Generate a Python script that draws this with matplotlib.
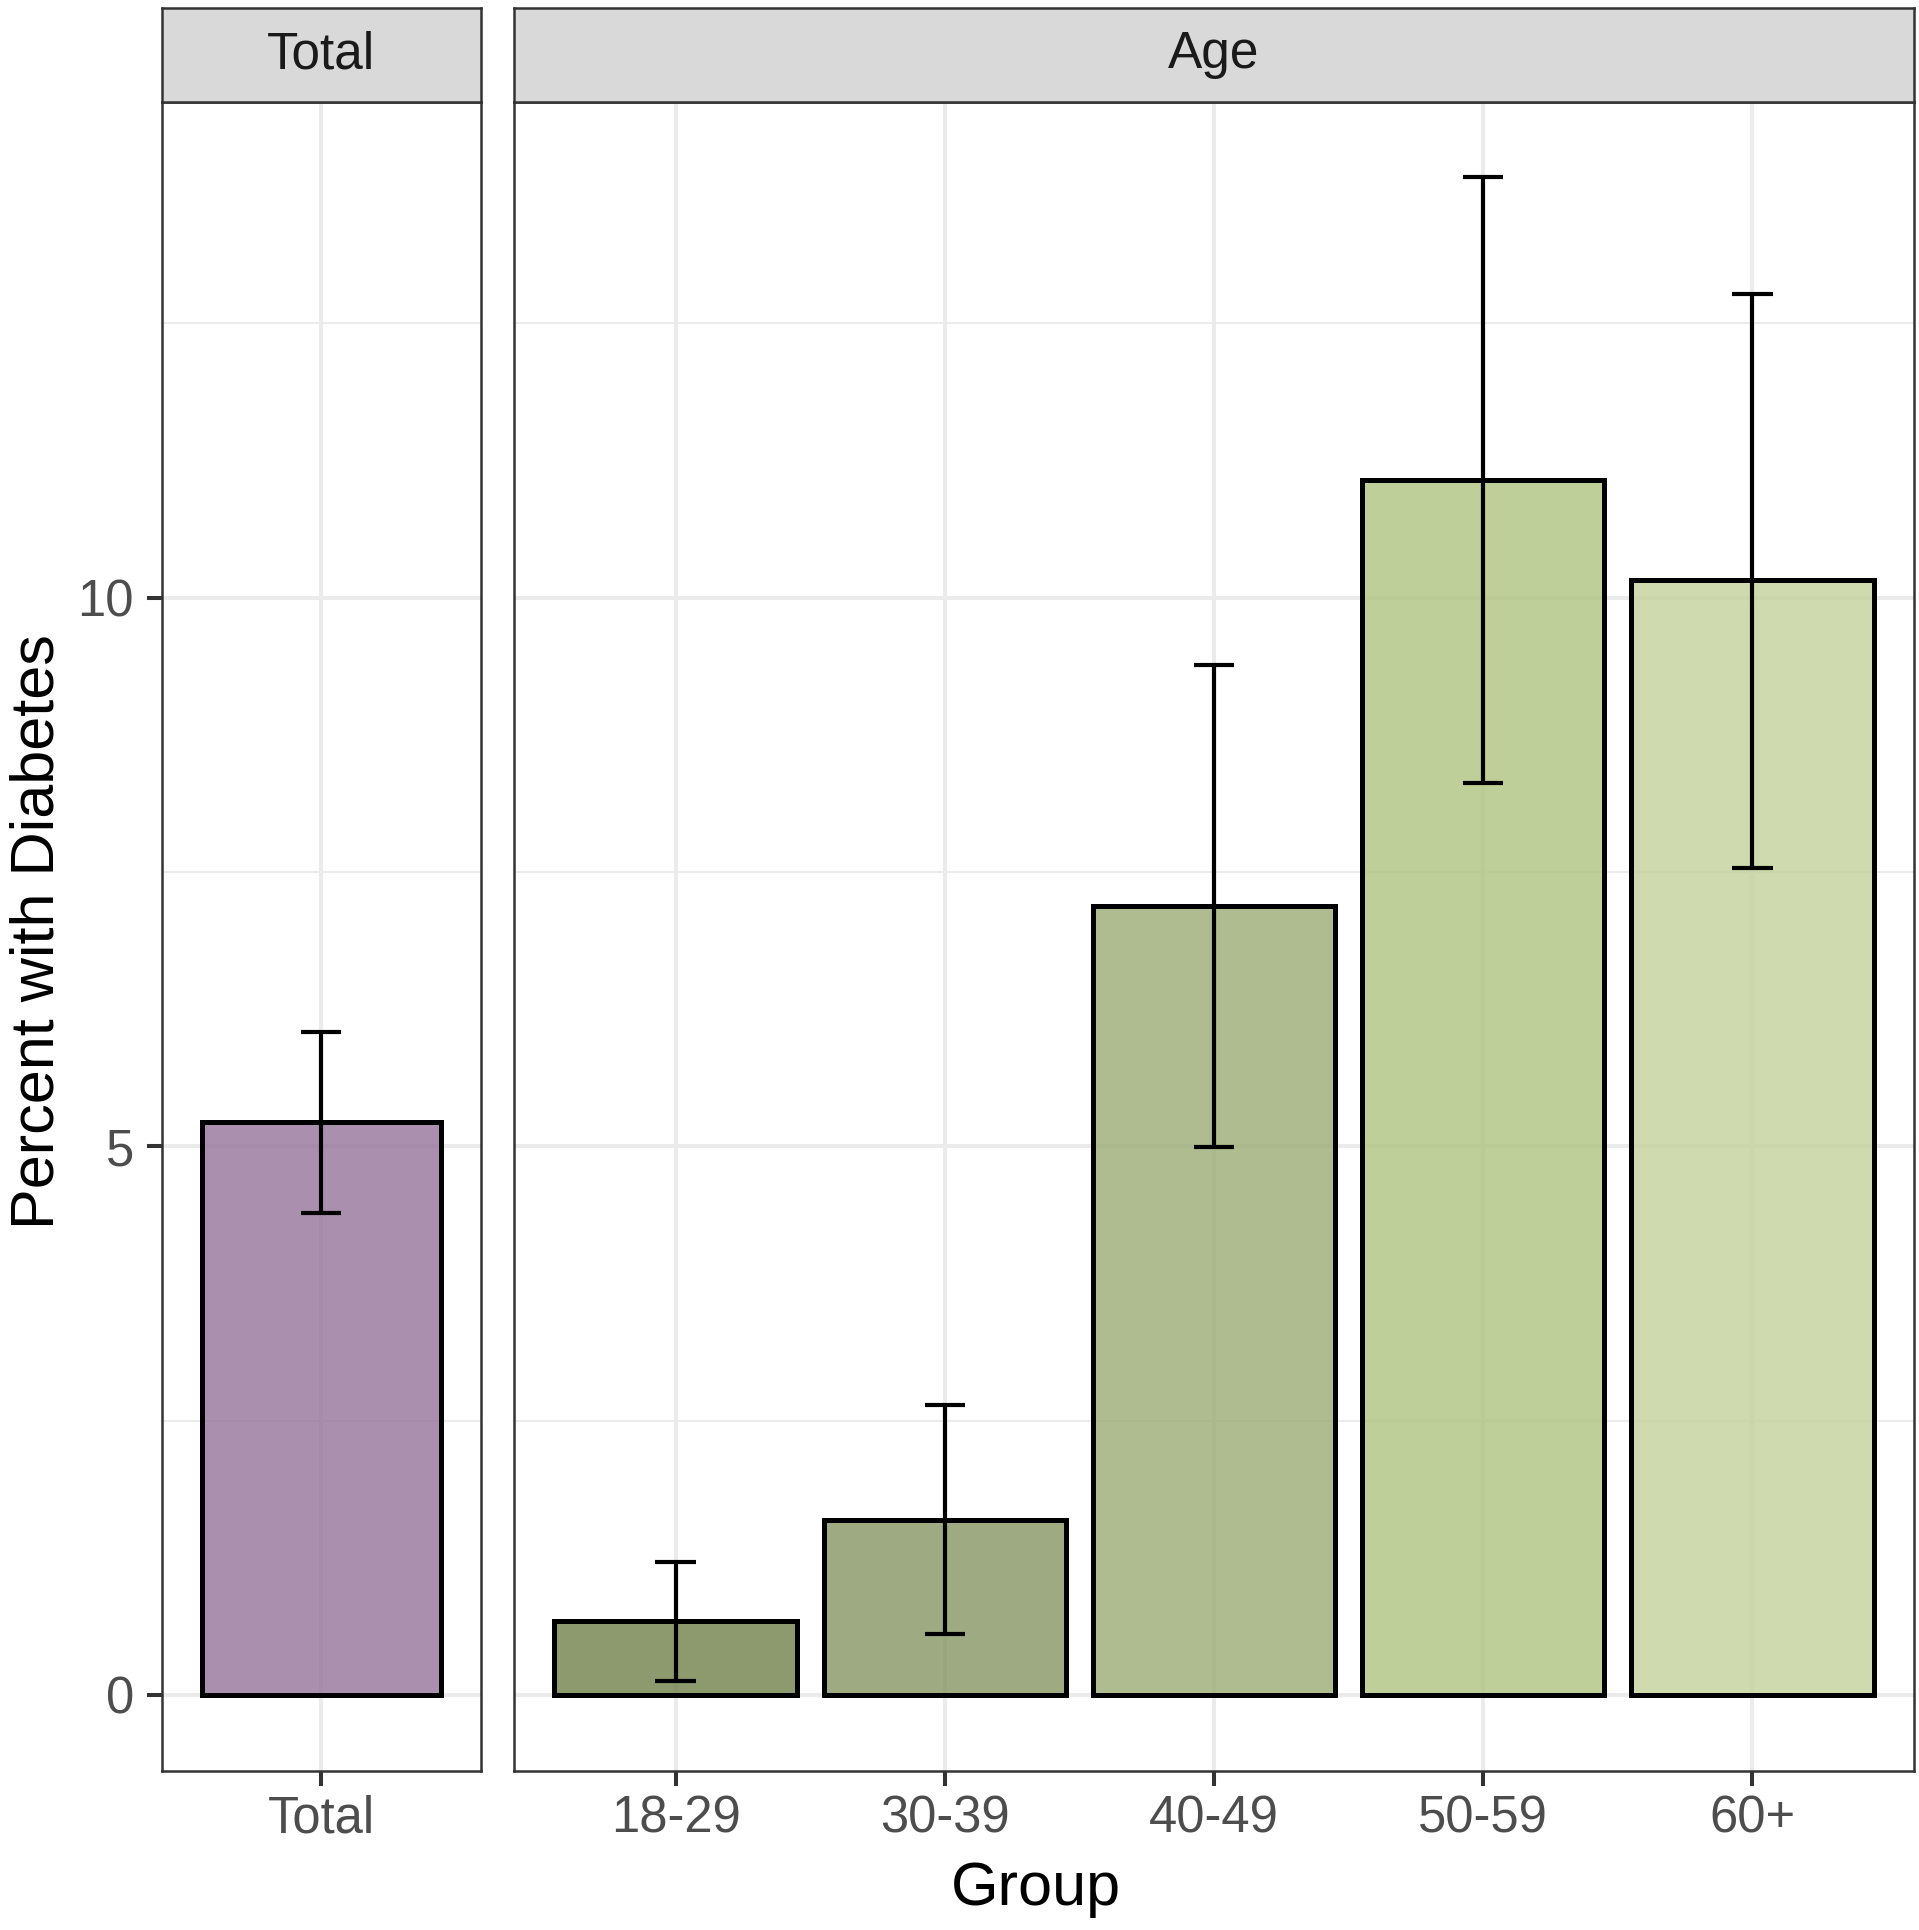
import matplotlib
matplotlib.use('Agg')
import matplotlib.pyplot as plt
from matplotlib.colors import to_rgba

plt.rcParams['font.family'] = ['Liberation Sans', 'DejaVu Sans']

# ---- data ----
panel_titles = ['Total', 'Age']

total_labels = ['Total']
total_values = [5.22]
total_lower = [4.39]
total_upper = [6.04]
total_colors = ['#95739A']

age_labels = ['18-29', '30-39', '40-49', '50-59', '60+']
age_values = [0.67, 1.59, 7.19, 11.07, 10.16]
age_lower = [0.13, 0.55, 4.99, 8.31, 7.54]
age_upper = [1.21, 2.64, 9.39, 13.83, 12.77]
age_colors = ['#6F814A', '#869663', '#9AAC74', '#AFC380', '#C3D29A']

y_major = [0, 5, 10]
y_minor = [2.5, 7.5, 12.5]

x_title = 'Group'
y_title = 'Percent with Diabetes'

# ---- layout ----
W, H = 1919, 1930
fig = plt.figure(figsize=(W / 100, H / 100), dpi=100)

border = '#333333'
grid_c = '#EBEBEB'

all_upper = total_upper + age_upper
ymax = max(all_upper)
ymin = 0
span = ymax - ymin
ylim = (ymin - 0.05 * span, ymax + 0.05 * span)

p_top, p_bot = 101.5, 1770.7
s_top = 8.0
panel_y0 = 1 - p_bot / H
panel_h = (p_bot - p_top) / H
strip_y0 = 1 - p_top / H
strip_h = (p_top - s_top) / H

panels = [
    (161.6 / W, (481 - 161.6) / W, total_labels, total_values, total_lower, total_upper, total_colors, True),
    (514 / W, (1914 - 514) / W, age_labels, age_values, age_lower, age_upper, age_colors, False),
]

for (x0, w, labels, vals, lo, hi, cols, first), title in zip(panels, panel_titles):
    ax = fig.add_axes([x0, panel_y0, w, panel_h])
    xs = list(range(len(labels)))
    ax.set_axisbelow(True)
    # grid
    for y in y_minor:
        ax.axhline(y, color=grid_c, lw=1.5, zorder=0)
    for y in y_major:
        ax.axhline(y, color=grid_c, lw=2.9, zorder=0)
    for x in xs:
        ax.axvline(x, color=grid_c, lw=2.9, zorder=0)
    ax.bar(xs, vals, width=0.9, color=[to_rgba(c, 0.8) for c in cols],
           edgecolor='black', linewidth=3.6, zorder=2)
    ax.vlines(xs, lo, hi, color='black', lw=3.0, zorder=3)
    ax.hlines(lo, [x - 0.075 for x in xs], [x + 0.075 for x in xs], color='black', lw=3.0, zorder=3)
    ax.hlines(hi, [x - 0.075 for x in xs], [x + 0.075 for x in xs], color='black', lw=3.0, zorder=3)
    ax.set_xlim(-0.6, len(labels) - 0.4)
    ax.set_ylim(*ylim)
    ax.set_xticks(xs)
    ax.set_xticklabels(labels)
    ax.set_yticks(y_major)
    ax.set_yticklabels([str(v) for v in y_major])
    ax.tick_params(axis='both', length=10.8, width=2.9, color=border,
                   labelsize=36.5, labelcolor='#4D4D4D')
    ax.tick_params(axis='x', pad=6)
    ax.tick_params(axis='y', pad=9)
    if not first:
        ax.tick_params(axis='y', left=False, labelleft=False)
    for s in ax.spines.values():
        s.set_color(border)
        s.set_linewidth(1.8)
    # strip
    sax = fig.add_axes([x0, strip_y0, w, strip_h])
    sax.set_facecolor('#D9D9D9')
    sax.set_xticks([])
    sax.set_yticks([])
    for s in sax.spines.values():
        s.set_color(border)
        s.set_linewidth(1.8)
    sax.text(0.5, 0.5, title, transform=sax.transAxes, ha='center', va='center',
             fontsize=37, color='#1A1A1A')

fig.text(1036 / W, 1 - 1905 / H, x_title, ha='center', va='baseline', fontsize=44, color='black')
fig.text(10 / W, 1 - 932 / H, y_title, ha='left', va='center', rotation=90, fontsize=44, color='black')

fig.savefig('out.png', dpi=100, facecolor='white')
